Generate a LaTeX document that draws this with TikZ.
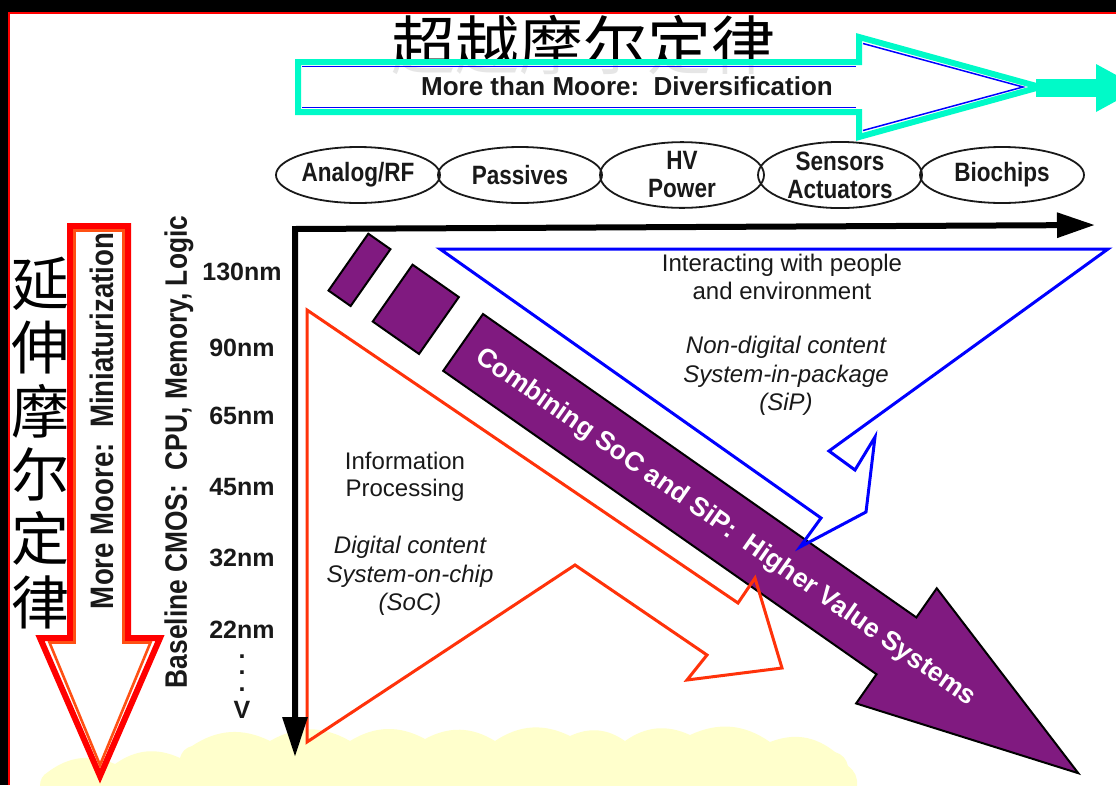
\documentclass[tikz,border=0pt]{standalone}
\usepackage{fontspec}
\setmainfont{Liberation Sans}
\newfontfamily\cond{Liberation Sans}[FakeStretch=0.85]
\newfontfamily\cjk{Noto Sans CJK SC}
\usetikzlibrary{arrows.meta,shapes.geometric}
\definecolor{cyanA}{RGB}{0,250,200}
\definecolor{blueA}{RGB}{0,0,255}
\definecolor{redA}{RGB}{255,0,0}
\definecolor{orangeA}{RGB}{255,80,20}
\definecolor{redT}{RGB}{255,50,10}
\definecolor{purpleA}{RGB}{128,26,128}
\definecolor{cloudA}{RGB}{255,255,204}
\definecolor{txt}{RGB}{25,25,25}
\begin{document}
\begin{tikzpicture}[x=1pt,y=-1pt,
  ell/.style={draw=txt, line width=1.8pt, ellipse, minimum width=164pt, minimum height=56pt,
    inner sep=0pt, align=center, text=txt, font={\cond\bfseries\fontsize{26.5}{28}\selectfont}},
  nmlab/.style={text=txt, inner sep=0pt, font={\bfseries\fontsize{25}{25}\selectfont}},
  rotlab/.style={text=txt, inner sep=0pt, rotate=90, font={\cond\bfseries\fontsize{31}{31}\selectfont}},
  plain/.style={text=txt, inner sep=0pt, align=center, font={\fontsize{24}{27.5}\selectfont}},
  ital/.style={text=txt, inner sep=0pt, align=center, font={\itshape\fontsize{24}{28.5}\selectfont}},
  purp/.style={fill=purpleA, draw=black, line width=2pt, line join=miter},
  cjktext/.style={inner sep=0pt, align=center, text=black}
]
\useasboundingbox (0,0) rectangle (1116,785);
\clip (0,0) rectangle (1116,785);
\fill[white] (0,0) rectangle (1116,785);
% frame
\fill[black] (0,0) rectangle (1116,12);
\fill[black] (0,0) rectangle (8,785);
\draw[redA, line width=1.6pt] (9,785) -- (9,13) -- (1116,13);
% cloud
\fill[cloudA] (40,786) to[bend left=30] (48,772) to[bend left=30] (115,764) to[bend left=30] (180,758)
  to[bend left=30] (192,746) to[bend left=30] (270,741) to[bend left=30] (350,741)
  to[bend left=30] (425,739) to[bend left=30] (495,741) to[bend left=30] (570,736)
  to[bend left=30] (625,741) to[bend left=30] (690,735) to[bend left=30] (770,742)
  to[bend left=30] (835,752) to[bend left=30] (848,766) to[bend left=30] (857,786) -- cycle;
% title
\node[cjktext, font={\cjk\fontsize{64}{64}\selectfont}] (title) at (583,45) {超越摩尔定律};
% cyan arrow
\filldraw[draw=cyanA, fill=white, fill opacity=0.9, line width=6pt, line join=miter]
  (298,62) -- (859,62) -- (859,37) -- (1040,87) -- (859,137) -- (859,112) -- (298,112) -- cycle;
\draw[blueA, line width=1.5pt] (302,66.5) -- (856,66.5);
\draw[blueA, line width=1.5pt] (302,107.5) -- (856,107.5);
\draw[blueA, line width=1.5pt] (863,43.5) -- (1023,87) -- (863,130.5);
\fill[cyanA] (1036,79) rectangle (1098,97);
\fill[cyanA] (1096,64) -- (1140,88) -- (1096,112) -- cycle;
\node[text=txt, inner sep=0pt, font={\bfseries\fontsize{26}{26}\selectfont}] (mtm) at (627,86)
  {More than Moore:\ \ Diversification};
% ellipses
\node[ell] (analog) at (358,175) {Analog/RF};
\node[ell] (passives) at (520,175) {Passives};
\node[ell] (hv) at (682,175) {HV\\Power};
\node[ell] (sensors) at (840,175) {Sensors\\Actuators};
\node[ell] (bio) at (1002,175) {Biochips};
% purple arrow
\begin{scope}[shift={(483,314)}, rotate=-35]
  \draw[purp] (-140,0) rectangle (-113,69.4);
  \draw[purp] (-86,0) rectangle (-29.5,69.4);
  \draw[purp] (0,0) -- (529,0) -- (529,-35.6) -- (751,34.7) -- (529,105) -- (529,69.4) -- (0,69.4) -- cycle;
  \node[text=white, inner sep=0pt, rotate=-35, font={\bfseries\fontsize{26.5}{26.5}\selectfont}] (combine) at (321,36)
    {Combining SoC and SiP:\ \ Higher Value Systems};
\end{scope}
% red and blue outlines
\draw[redT, line width=3pt, line join=miter] (307,310) -- (738,603) -- (755,578) -- (782,668) -- (687,680)
  -- (707,655) -- (575,565) -- (307,742) -- cycle;
\draw[blueA, line width=3pt, line join=miter] (440,249) -- (1108,249) -- (829,451) -- (855,470) -- (875,437)
  -- (866,512) -- (800,547) -- (821,518) -- cycle;
% triangle texts
\node[plain] (interact) at (782,277) {Interacting with people\\and environment};
\node[ital] (sip) at (786,376) {Non-digital content\\System-in-package\\(SiP)};
\node[plain] (info) at (405,477) {Information\\Processing};
\node[ital] (soc) at (410,576) {Digital content\\System-on-chip\\(SoC)};
% axes
\coordinate (origin) at (295,229);
\coordinate (yend) at (295,757);
\coordinate (xend) at (1095,225);
\draw[black, line width=6pt, line join=miter,
  {Triangle[length=40pt,width=24pt]}-{Triangle[length=38pt,width=24pt]}] (yend) -- (origin) -- (xend);
% node labels
\node[nmlab] (n130) at (242,272) {130nm};
\node[nmlab] (n90) at (242,348) {90nm};
\node[nmlab] (n65) at (242,416) {65nm};
\node[nmlab] (n45) at (242,487) {45nm};
\node[nmlab] (n32) at (242,558) {32nm};
\node[nmlab] (n22) at (242,630) {22nm};
\node[nmlab] (dot1) at (242,657) {.};
\node[nmlab] (dot2) at (242,673) {.};
\node[nmlab] (dot3) at (242,690) {.};
\node[nmlab] (vv) at (242,710) {V};
\node[rotlab] (baseline) at (179,452) {Baseline CMOS:\ \ CPU, Memory, Logic};
% left red arrow
\filldraw[draw=redA, fill=white, line width=6pt, line join=miter]
  (70,226) -- (128,226) -- (128,638) -- (160,638) -- (100,776) -- (40,638) -- (70,638) -- cycle;
\draw[orangeA, line width=2.6pt, line join=miter]
  (74.5,230.5) -- (123.5,230.5) -- (123.5,642.5) -- (150.5,642.5) -- (100,765) -- (49.5,642.5) -- (74.5,642.5) -- cycle;
\node[rotlab, font={\cond\bfseries\fontsize{32.5}{32.5}\selectfont}] (moremoore) at (102,421) {More Moore:\ \ Miniaturization};
\node[cjktext, font={\cjk\fontsize{58}{63.8}\selectfont}] (yanshen) at (40,443) {延\\伸\\摩\\尔\\定\\律};
\end{tikzpicture}
\end{document}
